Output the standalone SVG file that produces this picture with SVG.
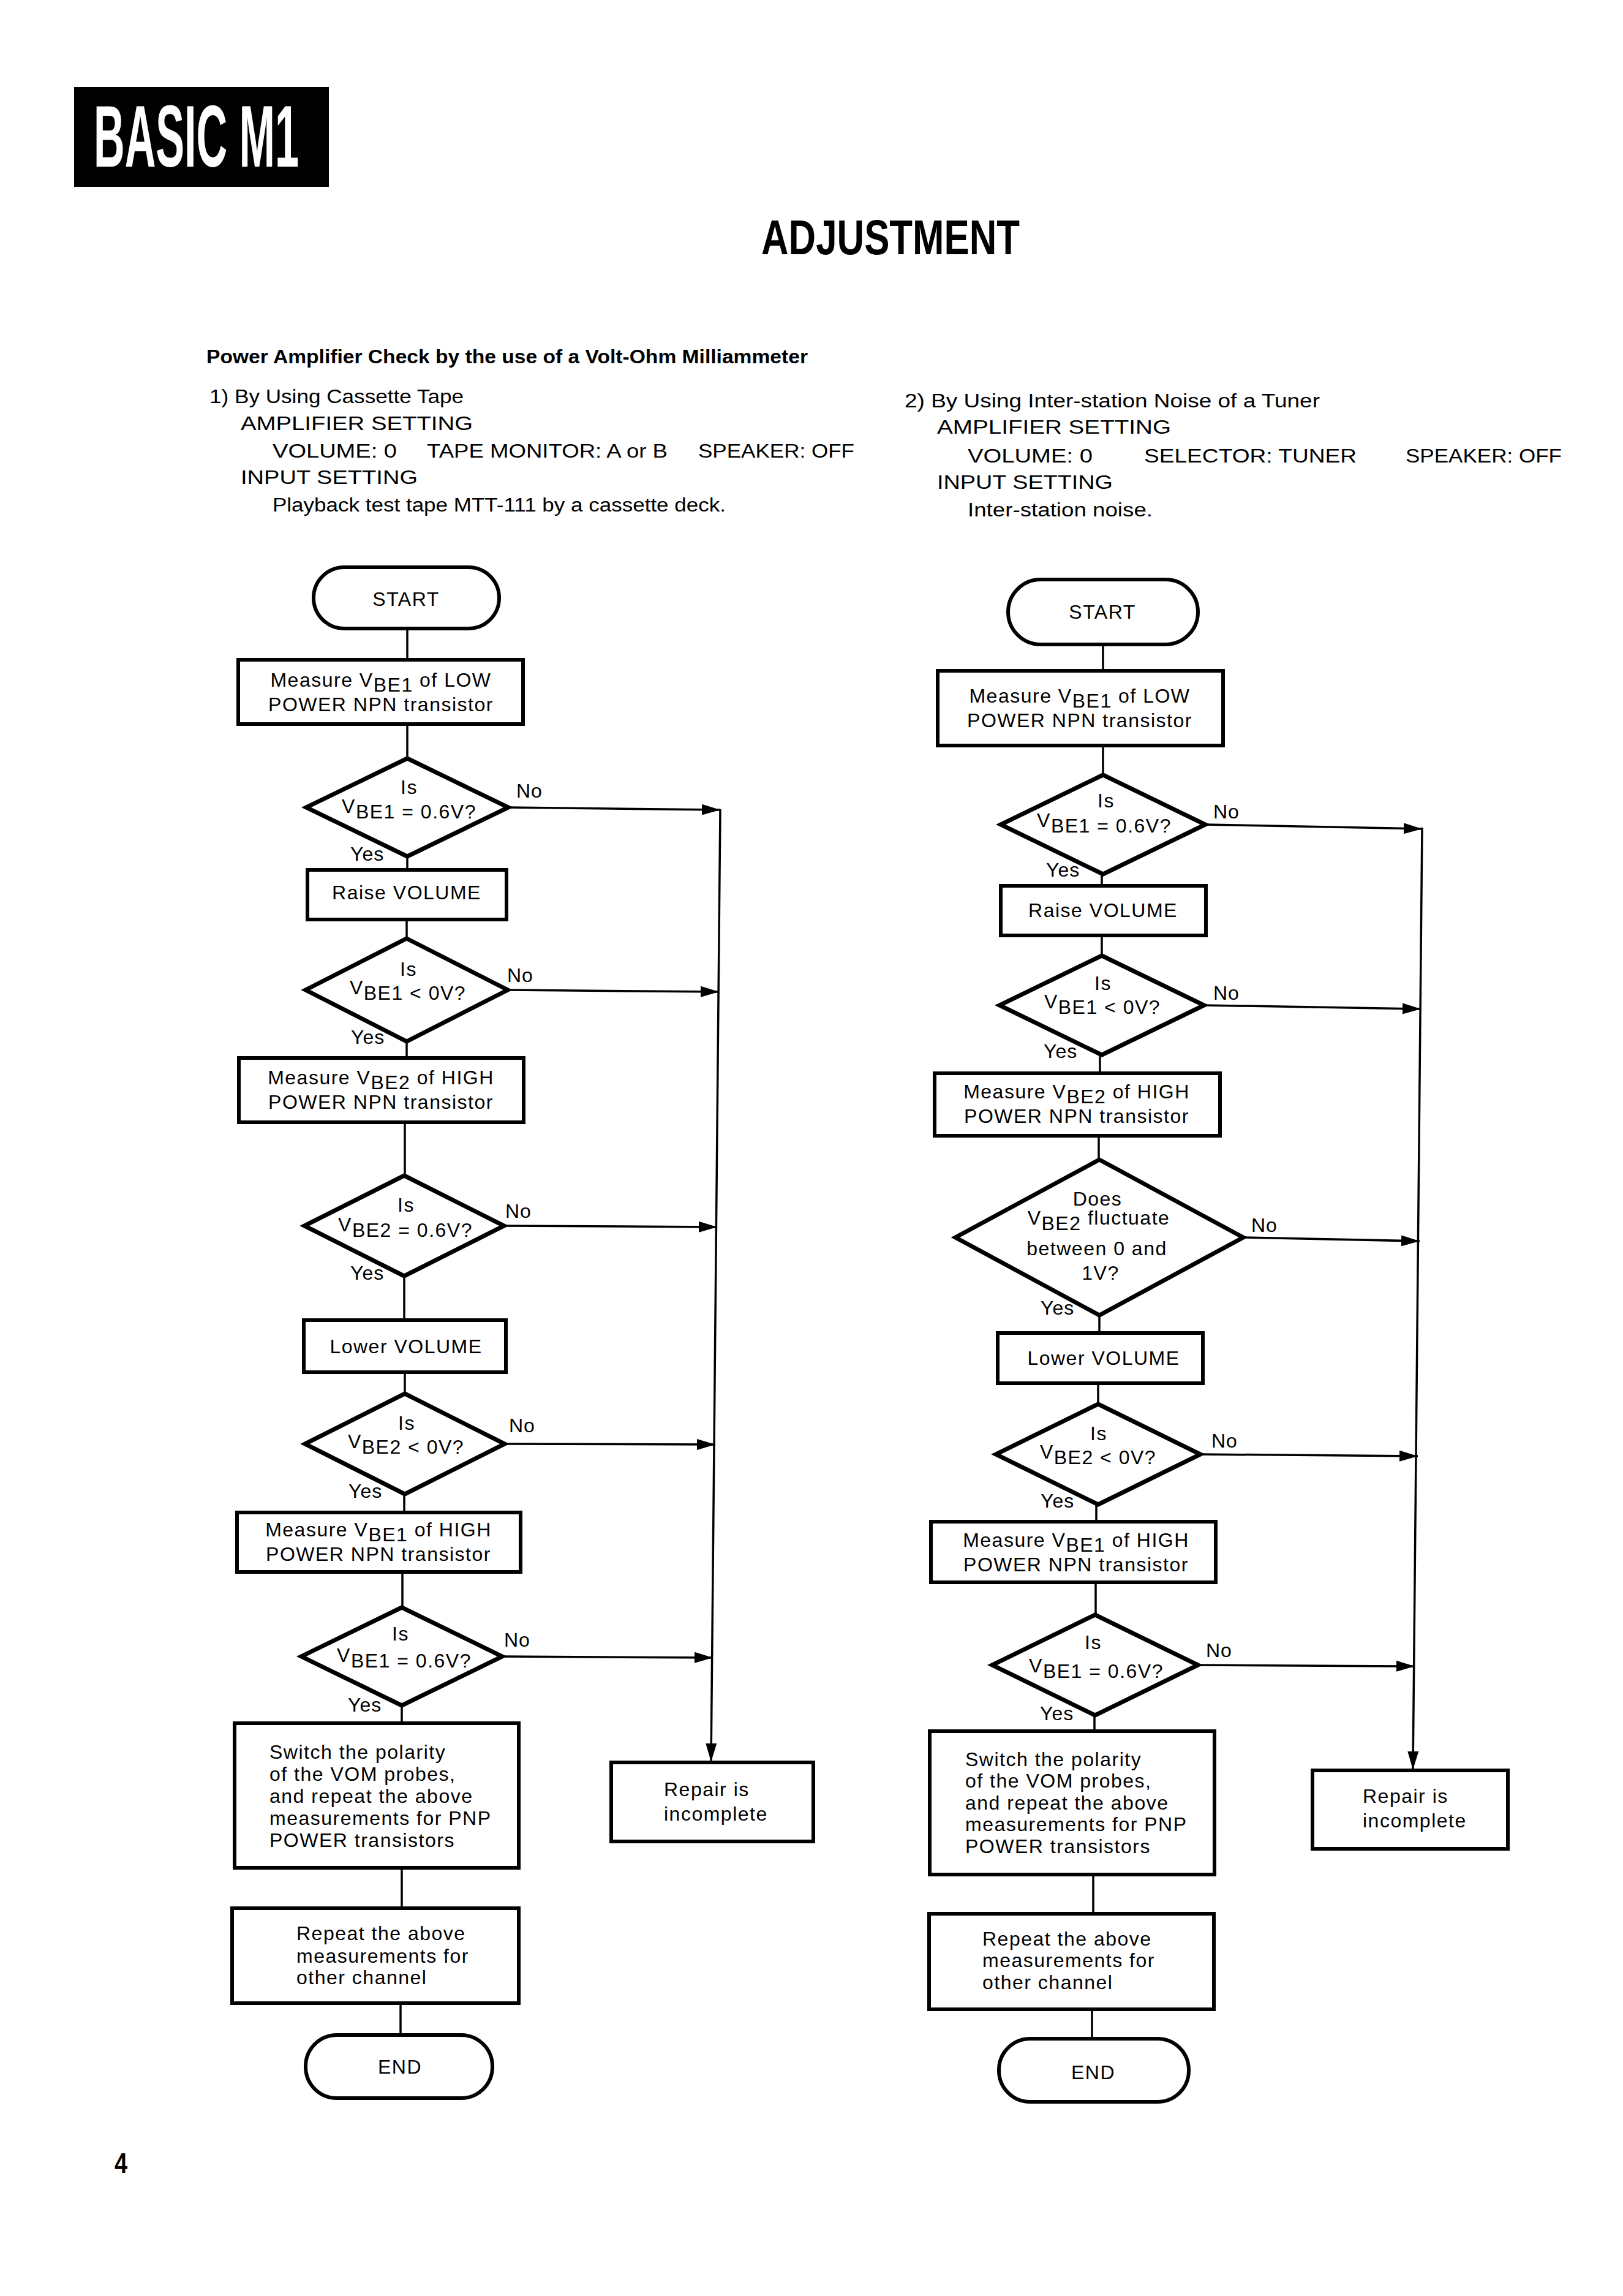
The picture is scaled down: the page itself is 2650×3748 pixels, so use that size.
<svg xmlns="http://www.w3.org/2000/svg" width="2650" height="3748" viewBox="0 0 2650 3748">
<style>
text{font-family:"Liberation Sans",Arial,sans-serif;fill:#000}
.hd{font-size:31px}
.hb{font-size:31px;font-weight:bold}
.t{font-size:32px;letter-spacing:1.5px}
.c{text-anchor:middle}
.lb{font-size:32px;letter-spacing:1px}
.box{fill:none;stroke:#000;stroke-width:6}
.term{fill:none;stroke:#000;stroke-width:6}
.dia{fill:none;stroke:#000;stroke-width:7;stroke-linejoin:miter}
.ln{fill:none;stroke:#000;stroke-width:3.5}
.ar{fill:none;stroke:#000;stroke-width:3.5;marker-end:url(#ah)}
</style>
<defs>
<marker id="ah" viewBox="0 0 30 20" refX="30" refY="10" markerWidth="30" markerHeight="20" markerUnits="userSpaceOnUse" orient="auto">
<path d="M0,1 L30,10 L0,19 z" fill="#000"/>
</marker>
</defs>
<rect width="2650" height="3748" fill="#fff"/>

<g id="header">
<rect x="121" y="142" width="416" height="163" fill="#000"/>
<text x="153" y="272" font-size="142" font-weight="bold" textLength="335" lengthAdjust="spacingAndGlyphs" style="fill:#fff">BASIC M1</text>
<text x="1243" y="415" font-size="80" font-weight="bold" textLength="422" lengthAdjust="spacingAndGlyphs">ADJUSTMENT</text>
<text class="hb" x="337" y="593" textLength="982" lengthAdjust="spacingAndGlyphs">Power Amplifier Check by the use of a Volt-Ohm Milliammeter</text>
<text class="hd" x="342" y="658" textLength="415" lengthAdjust="spacingAndGlyphs">1)  By Using Cassette Tape</text>
<text class="hd" x="393" y="702" textLength="379" lengthAdjust="spacingAndGlyphs">AMPLIFIER SETTING</text>
<text class="hd" x="445" y="747" textLength="203" lengthAdjust="spacingAndGlyphs">VOLUME: 0</text>
<text class="hd" x="697" y="747" textLength="393" lengthAdjust="spacingAndGlyphs">TAPE MONITOR: A or B</text>
<text class="hd" x="1140" y="747" textLength="255" lengthAdjust="spacingAndGlyphs">SPEAKER: OFF</text>
<text class="hd" x="393" y="790" textLength="289" lengthAdjust="spacingAndGlyphs">INPUT SETTING</text>
<text class="hd" x="445" y="835" textLength="740" lengthAdjust="spacingAndGlyphs">Playback test tape MTT-111 by a cassette deck.</text>
<text class="hd" x="1477" y="665" textLength="678" lengthAdjust="spacingAndGlyphs">2)  By Using Inter-station Noise of a Tuner</text>
<text class="hd" x="1530" y="708" textLength="382" lengthAdjust="spacingAndGlyphs">AMPLIFIER SETTING</text>
<text class="hd" x="1580" y="755" textLength="204" lengthAdjust="spacingAndGlyphs">VOLUME: 0</text>
<text class="hd" x="1868" y="755" textLength="347" lengthAdjust="spacingAndGlyphs">SELECTOR: TUNER</text>
<text class="hd" x="2295" y="755" textLength="255" lengthAdjust="spacingAndGlyphs">SPEAKER: OFF</text>
<text class="hd" x="1530" y="798" textLength="287" lengthAdjust="spacingAndGlyphs">INPUT SETTING</text>
<text class="hd" x="1580" y="843" textLength="302" lengthAdjust="spacingAndGlyphs">Inter-station noise.</text>
<text x="187" y="3547" font-size="46" font-weight="bold" textLength="21" lengthAdjust="spacingAndGlyphs">4</text>
</g>

<g id="connectors">
<line class="ln" x1="665" y1="1026" x2="665" y2="1077"/>
<line class="ln" x1="665" y1="1182" x2="665" y2="1238"/>
<line class="ln" x1="665" y1="1398" x2="665" y2="1420"/>
<line class="ln" x1="664" y1="1501" x2="664" y2="1532"/>
<line class="ln" x1="664" y1="1700" x2="664" y2="1727"/>
<line class="ln" x1="661" y1="1832" x2="661" y2="1919"/>
<line class="ln" x1="660" y1="2083" x2="660" y2="2155"/>
<line class="ln" x1="661" y1="2240" x2="661" y2="2275"/>
<line class="ln" x1="660" y1="2439" x2="660" y2="2469"/>
<line class="ln" x1="657" y1="2566" x2="657" y2="2624"/>
<line class="ln" x1="656" y1="2784" x2="656" y2="2813"/>
<line class="ln" x1="656" y1="3049" x2="656" y2="3115"/>
<line class="ln" x1="654" y1="3270" x2="654" y2="3322"/>
<line class="ar" x1="830" y1="1318" x2="1176" y2="1322"/>
<line class="ar" x1="829" y1="1616" x2="1174" y2="1619"/>
<line class="ar" x1="823" y1="2001" x2="1171" y2="2003"/>
<line class="ar" x1="824" y1="2357" x2="1168" y2="2358"/>
<line class="ar" x1="820" y1="2704" x2="1164" y2="2706"/>
<line class="ar" x1="1176" y1="1321" x2="1161" y2="2876"/>
<line class="ln" x1="1801" y1="1052" x2="1801" y2="1095"/>
<line class="ln" x1="1801" y1="1217" x2="1801" y2="1265"/>
<line class="ln" x1="1799" y1="1427" x2="1799" y2="1446"/>
<line class="ln" x1="1799" y1="1527" x2="1799" y2="1560"/>
<line class="ln" x1="1796" y1="1722" x2="1796" y2="1752"/>
<line class="ln" x1="1794" y1="1854" x2="1794" y2="1893"/>
<line class="ln" x1="1795" y1="2147" x2="1795" y2="2176"/>
<line class="ln" x1="1793" y1="2258" x2="1793" y2="2292"/>
<line class="ln" x1="1790" y1="2456" x2="1790" y2="2484"/>
<line class="ln" x1="1789" y1="2583" x2="1789" y2="2636"/>
<line class="ln" x1="1787" y1="2800" x2="1787" y2="2826"/>
<line class="ln" x1="1785" y1="3060" x2="1785" y2="3124"/>
<line class="ln" x1="1783" y1="3280" x2="1783" y2="3328"/>
<line class="ar" x1="1968" y1="1346" x2="2322" y2="1353"/>
<line class="ar" x1="1966" y1="1641" x2="2320" y2="1647"/>
<line class="ar" x1="2030" y1="2020" x2="2318" y2="2026"/>
<line class="ar" x1="1960" y1="2374" x2="2315" y2="2377"/>
<line class="ar" x1="1956" y1="2718" x2="2310" y2="2720"/>
<line class="ar" x1="2322" y1="1351" x2="2307" y2="2889"/>
<text class="lb" x="843" y="1302">No</text>
<text class="lb" x="572" y="1405">Yes</text>
<text class="lb" x="828" y="1603">No</text>
<text class="lb" x="573" y="1704">Yes</text>
<text class="lb" x="825" y="1988">No</text>
<text class="lb" x="572" y="2089">Yes</text>
<text class="lb" x="831" y="2338">No</text>
<text class="lb" x="569" y="2445">Yes</text>
<text class="lb" x="823" y="2688">No</text>
<text class="lb" x="568" y="2794">Yes</text>
<text class="lb" x="1981" y="1336">No</text>
<text class="lb" x="1708" y="1431">Yes</text>
<text class="lb" x="1981" y="1632">No</text>
<text class="lb" x="1704" y="1727">Yes</text>
<text class="lb" x="2043" y="2011">No</text>
<text class="lb" x="1699" y="2146">Yes</text>
<text class="lb" x="1978" y="2363">No</text>
<text class="lb" x="1699" y="2461">Yes</text>
<text class="lb" x="1969" y="2705">No</text>
<text class="lb" x="1698" y="2808">Yes</text>
</g>

<g id="L_start">
<rect class="term" x="512" y="926" width="303" height="100" rx="50"/>
<text class="t c" x="663" y="989">START</text>
</g>
<g id="L_meas1">
<rect class="box" x="389" y="1077" width="465" height="105"/>
<text class="t c" x="622" y="1121">Measure V<tspan dy="8">BE1</tspan><tspan dy="-8"> of LOW</tspan></text>
<text class="t c" x="622" y="1161">POWER NPN transistor</text>
</g>
<g id="L_dec1">
<polygon class="dia" points="665,1238 830,1318 665,1398 500,1318"/>
<text class="t c" x="668" y="1296">Is</text>
<text class="t c" x="668" y="1336"><tspan dy="-9">V</tspan><tspan dy="9">BE1 = 0.6V?</tspan></text>
</g>
<g id="L_raise">
<rect class="box" x="502" y="1420" width="325" height="81"/>
<text class="t c" x="664" y="1468">Raise VOLUME</text>
</g>
<g id="L_dec2">
<polygon class="dia" points="664,1532 829,1616 664,1700 499,1616"/>
<text class="t c" x="667" y="1593">Is</text>
<text class="t c" x="666" y="1632"><tspan dy="-9">V</tspan><tspan dy="9">BE1 &lt; 0V?</tspan></text>
</g>
<g id="L_meas2">
<rect class="box" x="390" y="1727" width="465" height="105"/>
<text class="t c" x="622" y="1770">Measure V<tspan dy="8">BE2</tspan><tspan dy="-8"> of HIGH</tspan></text>
<text class="t c" x="622" y="1810">POWER NPN transistor</text>
</g>
<g id="L_dec3">
<polygon class="dia" points="660,1919 823,2001 660,2083 497,2001"/>
<text class="t c" x="663" y="1978">Is</text>
<text class="t c" x="662" y="2019"><tspan dy="-9">V</tspan><tspan dy="9">BE2 = 0.6V?</tspan></text>
</g>
<g id="L_lower">
<rect class="box" x="496" y="2155" width="330" height="85"/>
<text class="t c" x="663" y="2209">Lower VOLUME</text>
</g>
<g id="L_dec4">
<polygon class="dia" points="661,2275 824,2357 661,2439 498,2357"/>
<text class="t c" x="664" y="2334">Is</text>
<text class="t c" x="663" y="2373"><tspan dy="-9">V</tspan><tspan dy="9">BE2 &lt; 0V?</tspan></text>
</g>
<g id="L_meas3">
<rect class="box" x="387" y="2469" width="463" height="97"/>
<text class="t c" x="618" y="2508">Measure V<tspan dy="8">BE1</tspan><tspan dy="-8"> of HIGH</tspan></text>
<text class="t c" x="618" y="2548">POWER NPN transistor</text>
</g>
<g id="L_dec5">
<polygon class="dia" points="656,2624 820,2704 656,2784 492,2704"/>
<text class="t c" x="654" y="2678">Is</text>
<text class="t c" x="660" y="2722"><tspan dy="-9">V</tspan><tspan dy="9">BE1 = 0.6V?</tspan></text>
</g>
<g id="L_switch">
<rect class="box" x="383" y="2813" width="464" height="236"/>
<text class="t" x="440" y="2871">Switch the polarity</text>
<text class="t" x="440" y="2907">of the VOM probes,</text>
<text class="t" x="440" y="2943">and repeat the above</text>
<text class="t" x="440" y="2979">measurements for PNP</text>
<text class="t" x="440" y="3015">POWER transistors</text>
</g>
<g id="L_repeat">
<rect class="box" x="379" y="3115" width="468" height="155"/>
<text class="t" x="484" y="3167">Repeat the above</text>
<text class="t" x="484" y="3204">measurements for</text>
<text class="t" x="484" y="3239">other channel</text>
</g>
<g id="L_end">
<rect class="term" x="499" y="3322" width="305" height="103" rx="51"/>
<text class="t c" x="653" y="3385">END</text>
</g>
<g id="L_repair">
<rect class="box" x="998" y="2877" width="330" height="129"/>
<text class="t" x="1084" y="2932">Repair is</text>
<text class="t" x="1084" y="2972">incomplete</text>
</g>

<g id="R_start">
<rect class="term" x="1646" y="946" width="310" height="106" rx="53"/>
<text class="t c" x="1800" y="1010">START</text>
</g>
<g id="R_meas1">
<rect class="box" x="1531" y="1095" width="466" height="122"/>
<text class="t c" x="1763" y="1147">Measure V<tspan dy="8">BE1</tspan><tspan dy="-8"> of LOW</tspan></text>
<text class="t c" x="1763" y="1187">POWER NPN transistor</text>
</g>
<g id="R_dec1">
<polygon class="dia" points="1801,1265 1968,1346 1801,1427 1634,1346"/>
<text class="t c" x="1806" y="1318">Is</text>
<text class="t c" x="1803" y="1359"><tspan dy="-9">V</tspan><tspan dy="9">BE1 = 0.6V?</tspan></text>
</g>
<g id="R_raise">
<rect class="box" x="1634" y="1446" width="335" height="81"/>
<text class="t c" x="1801" y="1497">Raise VOLUME</text>
</g>
<g id="R_dec2">
<polygon class="dia" points="1799,1560 1966,1641 1799,1722 1632,1641"/>
<text class="t c" x="1801" y="1616">Is</text>
<text class="t c" x="1800" y="1655"><tspan dy="-9">V</tspan><tspan dy="9">BE1 &lt; 0V?</tspan></text>
</g>
<g id="R_meas2">
<rect class="box" x="1526" y="1752" width="466" height="102"/>
<text class="t c" x="1758" y="1793">Measure V<tspan dy="8">BE2</tspan><tspan dy="-8"> of HIGH</tspan></text>
<text class="t c" x="1758" y="1833">POWER NPN transistor</text>
</g>
<g id="R_dec3">
<polygon class="dia" points="1795,1893 2030,2020 1795,2147 1560,2020"/>
<text class="t c" x="1792" y="1968">Does</text>
<text class="t c" x="1794" y="2008"><tspan dy="-9">V</tspan><tspan dy="9">BE2</tspan><tspan dy="-9"> fluctuate</tspan></text>
<text class="t c" x="1791" y="2049">between 0 and</text>
<text class="t c" x="1797" y="2089">1V?</text>
</g>
<g id="R_lower">
<rect class="box" x="1629" y="2176" width="335" height="82"/>
<text class="t c" x="1802" y="2228">Lower VOLUME</text>
</g>
<g id="R_dec4">
<polygon class="dia" points="1793,2292 1960,2374 1793,2456 1626,2374"/>
<text class="t c" x="1794" y="2351">Is</text>
<text class="t c" x="1793" y="2390"><tspan dy="-9">V</tspan><tspan dy="9">BE2 &lt; 0V?</tspan></text>
</g>
<g id="R_meas3">
<rect class="box" x="1520" y="2484" width="465" height="99"/>
<text class="t c" x="1757" y="2525">Measure V<tspan dy="8">BE1</tspan><tspan dy="-8"> of HIGH</tspan></text>
<text class="t c" x="1757" y="2565">POWER NPN transistor</text>
</g>
<g id="R_dec5">
<polygon class="dia" points="1788,2636 1956,2718 1788,2800 1620,2718"/>
<text class="t c" x="1785" y="2692">Is</text>
<text class="t c" x="1790" y="2739"><tspan dy="-9">V</tspan><tspan dy="9">BE1 = 0.6V?</tspan></text>
</g>
<g id="R_switch">
<rect class="box" x="1518" y="2826" width="465" height="234"/>
<text class="t" x="1576" y="2883">Switch the polarity</text>
<text class="t" x="1576" y="2918">of the VOM probes,</text>
<text class="t" x="1576" y="2954">and repeat the above</text>
<text class="t" x="1576" y="2989">measurements for PNP</text>
<text class="t" x="1576" y="3025">POWER transistors</text>
</g>
<g id="R_repeat">
<rect class="box" x="1517" y="3124" width="465" height="156"/>
<text class="t" x="1604" y="3176">Repeat the above</text>
<text class="t" x="1604" y="3211">measurements for</text>
<text class="t" x="1604" y="3247">other channel</text>
</g>
<g id="R_end">
<rect class="term" x="1631" y="3328" width="310" height="103" rx="51"/>
<text class="t c" x="1785" y="3394">END</text>
</g>
<g id="R_repair">
<rect class="box" x="2143" y="2890" width="319" height="128"/>
<text class="t" x="2225" y="2943">Repair is</text>
<text class="t" x="2225" y="2983">incomplete</text>
</g>
</svg>
